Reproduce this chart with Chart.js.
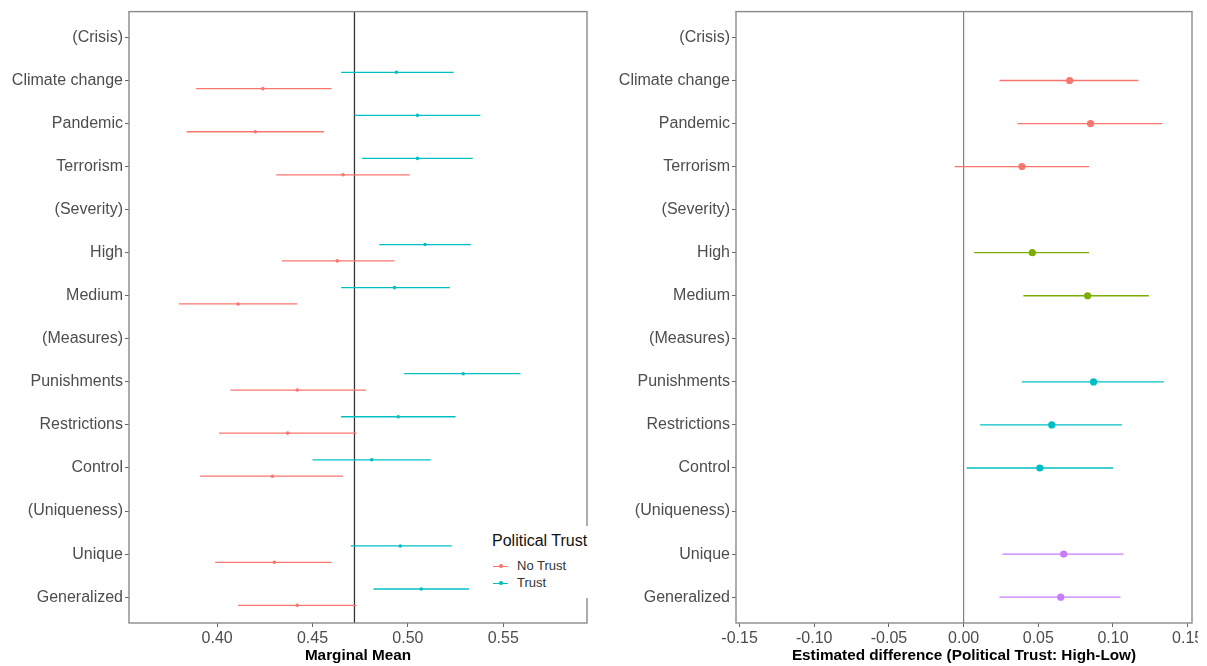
<!DOCTYPE html>
<html>
<head>
<meta charset="utf-8">
<script src="https://cdn.jsdelivr.net/npm/chart.js@4.4.1/dist/chart.umd.min.js"></script>
<style>
  html, body { margin: 0; padding: 0; background: #fff; }
  body { width: 1207px; height: 666px; position: relative; overflow: hidden; font-family: 'Liberation Sans', Arial, sans-serif; }
  #leftWrap { position: absolute; left: 0; top: 0; width: 600px; height: 666px; }
  #rightWrap { position: absolute; left: 600px; top: 0; width: 598px; height: 666px; overflow: hidden; }
  .legend { position: absolute; left: 486px; top: 526px; width: 114px; height: 72px; background: #fff; }
  .legend .title { position: absolute; left: 6px; top: 6px; font-size: 16px; color: #111; white-space: nowrap; }
  .legend .item { position: absolute; left: 7px; height: 14px; font-size: 13px; color: #333; white-space: nowrap; line-height: 14px; }
  .legend .key { position: absolute; left: 0; top: 6.5px; width: 15px; height: 1.3px; }
  .legend .key i { position: absolute; left: 6px; top: -1.2px; width: 3.5px; height: 3.5px; border-radius: 50%; }
  .legend .item span { position: absolute; left: 24px; top: 0; }
</style>
</head>
<body>
<div id="leftWrap">
  <canvas id="mmChart" width="600" height="666"></canvas>
  <div class="legend">
    <div class="title">Political Trust</div>
    <div class="item" style="top:33px"><div class="key" style="background:#F8766D"><i style="background:#F8766D"></i></div><span>No Trust</span></div>
    <div class="item" style="top:50px"><div class="key" style="background:#00BFC4"><i style="background:#00BFC4"></i></div><span>Trust</span></div>
  </div>
</div>
<div id="rightWrap">
  <canvas id="diffChart" width="607" height="666"></canvas>
</div>

<script>
// rows top to bottom; rows in brackets are group headers with no estimate
const categories = ['(Crisis)', 'Climate change', 'Pandemic', 'Terrorism',
  '(Severity)', 'High', 'Medium',
  '(Measures)', 'Punishments', 'Restrictions', 'Control',
  '(Uniqueness)', 'Unique', 'Generalized'];

// marginal means, political trust = Trust
const trustMean = [null, 0.494, 0.505, 0.505, null, 0.509, 0.493, null, 0.529, 0.495, 0.481, null, 0.496, 0.507];
const trustLow  = [null, 0.465, 0.472, 0.476, null, 0.485, 0.465, null, 0.498, 0.465, 0.450, null, 0.470, 0.482];
const trustHigh = [null, 0.524, 0.538, 0.534, null, 0.533, 0.522, null, 0.559, 0.525, 0.512, null, 0.523, 0.532];

// marginal means, political trust = No Trust
const noTrustMean = [null, 0.424, 0.420, 0.466, null, 0.463, 0.411, null, 0.442, 0.437, 0.429, null, 0.430, 0.442];
const noTrustLow  = [null, 0.389, 0.384, 0.431, null, 0.434, 0.380, null, 0.407, 0.401, 0.391, null, 0.399, 0.411];
const noTrustHigh = [null, 0.460, 0.456, 0.501, null, 0.493, 0.442, null, 0.478, 0.473, 0.466, null, 0.460, 0.473];

const grandMean = 0.472;

// estimated difference (High - Low trust)
const diffEst  = [null, 0.071, 0.085, 0.039, null, 0.046, 0.083, null, 0.087, 0.059, 0.051, null, 0.067, 0.065];
const diffLow  = [null, 0.024, 0.036, -0.006, null, 0.007, 0.040, null, 0.039, 0.011, 0.002, null, 0.026, 0.024];
const diffHigh = [null, 0.117, 0.133, 0.084, null, 0.084, 0.124, null, 0.134, 0.106, 0.100, null, 0.107, 0.105];

const mmTicks = [0.40, 0.45, 0.50, 0.55];
const diffTicks = [-0.15, -0.10, -0.05, 0.00, 0.05, 0.10, 0.15];

const RED = '#F8766D', GREEN = '#7CAE00', TEAL = '#00BFC4', PURPLE = '#C77CFF';
const groupColors = [RED, GREEN, TEAL, PURPLE];
const FONT = "'Liberation Sans', Arial, sans-serif";
const DODGE = 0.19;

function rowPoints(mean, low, high, shift) {
  const pts = [];
  mean.forEach((m, i) => {
    if (m === null) return;
    pts.push({ x: m, y: i + shift, lo: low[i], hi: high[i] });
  });
  return pts;
}

// horizontal error bars, drawn under the points through the chart's scales
const errorBars = {
  id: 'errorBars',
  beforeDatasetsDraw(chart) {
    const { ctx, scales: { x, y } } = chart;
    ctx.save();
    chart.data.datasets.forEach(ds => {
      ctx.strokeStyle = ds.borderColor;
      ctx.lineWidth = ds.barWidth || 1.3;
      ds.data.forEach(p => {
        const py = y.getPixelForValue(p.y);
        ctx.beginPath();
        ctx.moveTo(x.getPixelForValue(p.lo), py);
        ctx.lineTo(x.getPixelForValue(p.hi), py);
        ctx.stroke();
      });
    });
    ctx.restore();
  }
};

// full panel box and the vertical reference line
const panelFrame = {
  id: 'panelFrame',
  beforeDatasetsDraw(chart, args, opts) {
    const { ctx, chartArea: a, scales: { x } } = chart;
    ctx.save();
    const rx = x.getPixelForValue(opts.refValue);
    ctx.strokeStyle = opts.refColor;
    ctx.lineWidth = opts.refWidth;
    ctx.beginPath();
    ctx.moveTo(rx, a.top);
    ctx.lineTo(rx, a.bottom);
    ctx.stroke();
    ctx.restore();
  },
  afterDraw(chart) {
    const { ctx, chartArea: a } = chart;
    ctx.save();
    ctx.strokeStyle = '#8a8a8a';
    ctx.lineWidth = 1.4;
    ctx.strokeRect(a.left, a.top, a.right - a.left, a.bottom - a.top);
    ctx.restore();
  }
};

function buildScales(xMin, xMax, xTicks, xTitle, yWidth) {
  return {
    x: {
      type: 'linear',
      min: xMin,
      max: xMax,
      afterBuildTicks: s => { s.ticks = xTicks.map(v => ({ value: v })); },
      afterFit: s => { s.height = 43; },
      border: { display: false },
      grid: { drawOnChartArea: false, tickLength: 4, tickColor: '#666', tickWidth: 1 },
      ticks: {
        color: '#4d4d4d', font: { family: FONT, size: 16 }, padding: 2, maxRotation: 0,
        callback: v => v.toFixed(2)
      },
      title: {
        display: true, text: xTitle, color: '#000',
        font: { family: FONT, size: 15.3, weight: 'bold' }, padding: { top: 0, bottom: 1 }
      }
    },
    y: {
      type: 'linear',
      reverse: true,
      min: -0.6,
      max: categories.length - 0.4,
      afterBuildTicks: s => { s.ticks = categories.map((c, i) => ({ value: i })); },
      afterFit: s => { s.width = yWidth; },
      border: { display: false },
      grid: { drawOnChartArea: false, tickLength: 4, tickColor: '#666', tickWidth: 1 },
      ticks: {
        color: '#4d4d4d', font: { family: FONT, size: 16 }, padding: 2,
        callback: v => categories[v]
      }
    }
  };
}

function makeMarginalChart() {
  const ctx = document.getElementById('mmChart').getContext('2d');
  return new Chart(ctx, {
    type: 'scatter',
    data: {
      datasets: [
        {
          label: 'No Trust',
          data: rowPoints(noTrustMean, noTrustLow, noTrustHigh, DODGE),
          backgroundColor: RED, borderColor: RED, pointRadius: 1.8, pointBorderWidth: 0
        },
        {
          label: 'Trust',
          data: rowPoints(trustMean, trustLow, trustHigh, -DODGE),
          backgroundColor: TEAL, borderColor: TEAL, pointRadius: 1.8, pointBorderWidth: 0
        }
      ]
    },
    options: {
      responsive: false,
      animation: false,
      layout: { padding: { left: 0, right: 13, top: 9, bottom: 0 } },
      plugins: {
        legend: { display: false },
        tooltip: { enabled: false },
        panelFrame: { refValue: grandMean, refColor: '#333', refWidth: 1.3 }
      },
      scales: buildScales(0.3538, 0.5939, mmTicks, 'Marginal Mean', 129)
    },
    plugins: [panelFrame, errorBars]
  });
}

function makeDiffChart() {
  // one dataset per attribute group, so each gets its own colour
  const datasets = [];
  let g = -1;
  categories.forEach((c, i) => {
    if (diffEst[i] === null) {
      g++;
      datasets.push({
        label: c,
        data: [],
        backgroundColor: groupColors[g], borderColor: groupColors[g],
        pointRadius: 3.6, pointBorderWidth: 0
      });
      return;
    }
    datasets[g].data.push({ x: diffEst[i], y: i, lo: diffLow[i], hi: diffHigh[i] });
  });

  const ctx = document.getElementById('diffChart').getContext('2d');
  return new Chart(ctx, {
    type: 'scatter',
    data: { datasets },
    options: {
      responsive: false,
      animation: false,
      layout: { padding: { left: 0, right: 15, top: 9, bottom: 0 } },
      plugins: {
        legend: { display: false },
        tooltip: { enabled: false },
        panelFrame: { refValue: 0, refColor: '#777', refWidth: 1.1 }
      },
      scales: buildScales(-0.1524, 0.1529, diffTicks, 'Estimated difference (Political Trust: High-Low)', 136)
    },
    plugins: [panelFrame, errorBars]
  });
}

document.addEventListener('DOMContentLoaded', () => {
  makeMarginalChart();
  makeDiffChart();
});
</script>
</body>
</html>
